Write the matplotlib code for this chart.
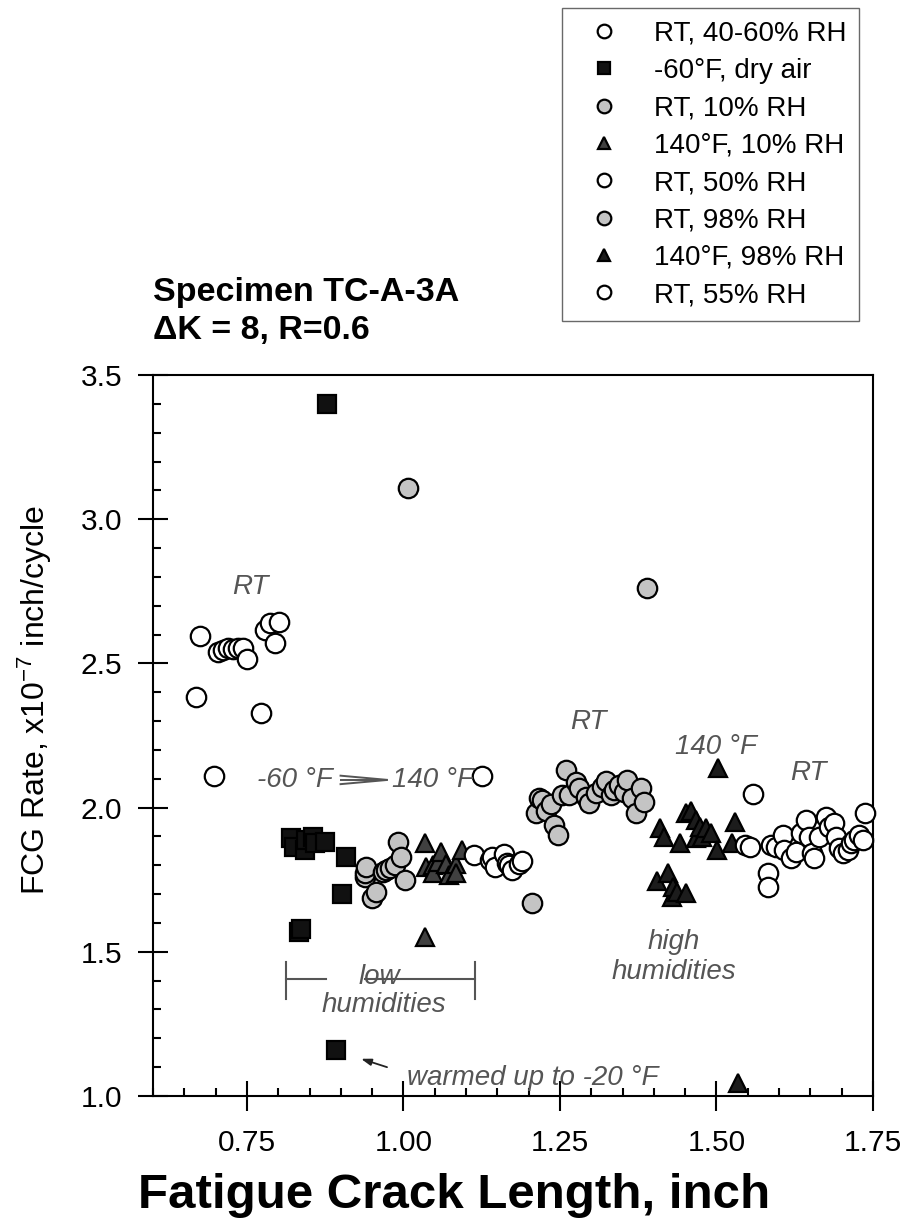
import matplotlib
matplotlib.use("Agg")
import matplotlib.pyplot as plt
from matplotlib.ticker import MultipleLocator, FixedLocator

plt.rcParams['font.family'] = ['Liberation Sans', 'DejaVu Sans']
plt.rcParams['mathtext.fontset'] = 'custom'
plt.rcParams['mathtext.rm'] = 'Liberation Sans'
plt.rcParams['mathtext.it'] = 'Liberation Sans:italic'

# ---- data: crack length (inch) and FCG rate (x1e-7 inch/cycle) ----
rt_4060_x = [0.668, 0.675, 0.698, 0.704, 0.712, 0.720, 0.728, 0.736, 0.743, 0.750,
             0.772, 0.779, 0.787, 0.795, 0.801]
rt_4060_y = [2.385, 2.595, 2.110, 2.540, 2.546, 2.552, 2.549, 2.552, 2.554, 2.516,
             2.327, 2.616, 2.640, 2.570, 2.642]

dry_x = [0.821, 0.826, 0.833, 0.837, 0.842, 0.845, 0.856, 0.858, 0.874, 0.878,
         0.892, 0.902, 0.908]
dry_y = [1.893, 1.865, 1.570, 1.578, 1.853, 1.888, 1.899, 1.876, 1.882, 3.398,
         1.160, 1.700, 1.827]

rh10_x = [0.938, 0.938, 0.941, 0.949, 0.956, 0.967, 0.972, 0.978, 0.986, 0.991,
          0.996, 1.002, 1.007]
rh10_y = [1.761, 1.772, 1.795, 1.686, 1.709, 1.778, 1.784, 1.789, 1.801, 1.882,
          1.830, 1.749, 3.108]

hot10_x = [1.034, 1.035, 1.036, 1.047, 1.047, 1.055, 1.060, 1.068, 1.073, 1.084,
           1.084, 1.094]
hot10_y = [1.552, 1.876, 1.795, 1.801, 1.772, 1.812, 1.847, 1.806, 1.766, 1.806,
           1.772, 1.853]

rt50_x = [1.113, 1.125, 1.139, 1.141, 1.147, 1.160, 1.165, 1.169, 1.174, 1.185, 1.190]
rt50_y = [1.836, 2.110, 1.818, 1.830, 1.795, 1.840, 1.807, 1.800, 1.784, 1.804, 1.815]

rh98_x = [1.206, 1.211, 1.217, 1.222, 1.227, 1.235, 1.240, 1.247, 1.254, 1.259,
          1.264, 1.275, 1.280, 1.291, 1.296, 1.307, 1.317, 1.323, 1.331, 1.336,
          1.344, 1.352, 1.357, 1.365, 1.371, 1.379, 1.384, 1.389]
rh98_y = [1.668, 1.980, 2.032, 2.026, 1.987, 2.014, 1.940, 1.905, 2.044, 2.130,
          2.044, 2.090, 2.067, 2.038, 2.015, 2.050, 2.073, 2.091, 2.044, 2.061,
          2.078, 2.055, 2.096, 2.032, 1.980, 2.067, 2.021, 2.761]

hot98_x = [1.405, 1.410, 1.416, 1.423, 1.429, 1.430, 1.437, 1.442, 1.452, 1.452,
           1.460, 1.468, 1.468, 1.473, 1.477, 1.484, 1.491, 1.501, 1.503, 1.525,
           1.530, 1.535]
hot98_y = [1.744, 1.928, 1.899, 1.772, 1.691, 1.726, 1.709, 1.876, 1.703, 1.980,
           1.987, 1.957, 1.893, 1.934, 1.899, 1.928, 1.911, 1.853, 2.136, 1.876,
           1.951, 1.044]

rt55_x = [1.546, 1.554, 1.559, 1.582, 1.582, 1.587, 1.595, 1.606, 1.608, 1.619,
          1.627, 1.635, 1.643, 1.648, 1.653, 1.656, 1.664, 1.675, 1.680, 1.688,
          1.691, 1.696, 1.702, 1.710, 1.715, 1.720, 1.728, 1.734, 1.737]
rt55_y = [1.870, 1.865, 2.047, 1.772, 1.726, 1.870, 1.865, 1.905, 1.853, 1.824,
          1.847, 1.911, 1.957, 1.899, 1.842, 1.824, 1.899, 1.969, 1.934, 1.946,
          1.899, 1.859, 1.842, 1.853, 1.876, 1.888, 1.905, 1.888, 1.980]

series_labels = ['RT, 40-60% RH', '-60°F, dry air', 'RT, 10% RH', '140°F, 10% RH',
                 'RT, 50% RH', 'RT, 98% RH', '140°F, 98% RH', 'RT, 55% RH']

x_major = [0.75, 1.00, 1.25, 1.50, 1.75]
x_major_labels = ['0.75', '1.00', '1.25', '1.50', '1.75']
y_major = [1.0, 1.5, 2.0, 2.5, 3.0, 3.5]
y_major_labels = ['1.0', '1.5', '2.0', '2.5', '3.0', '3.5']

# ---- figure ----
W, H = 908, 1229
fig = plt.figure(figsize=(W / 100, H / 100), dpi=100)
ax = fig.add_axes([153 / W, 1 - 1096 / H, 720 / W, 721 / H])

styles = [
    dict(marker='o', mfc='white'),
    dict(marker='s', mfc='#111111'),
    dict(marker='o', mfc='#c4c4c4'),
    dict(marker='^', mfc='#404040'),
    dict(marker='o', mfc='white'),
    dict(marker='o', mfc='#c4c4c4'),
    dict(marker='^', mfc='#1c1c1c'),
    dict(marker='o', mfc='white'),
]
sizes = {'o': 14, 's': 12.5, '^': 12.5}
data = [(rt_4060_x, rt_4060_y), (dry_x, dry_y), (rh10_x, rh10_y), (hot10_x, hot10_y),
        (rt50_x, rt50_y), (rh98_x, rh98_y), (hot98_x, hot98_y), (rt55_x, rt55_y)]

handles = []
for (xs, ys), st, lab in zip(data, styles, series_labels):
    h, = ax.plot(xs, ys, ls='none', marker=st['marker'], ms=sizes[st['marker']],
                 mfc=st['mfc'], mec='black', mew=1.6, label=lab, clip_on=False,
                 zorder=3)
    handles.append(h)

ax.set_xlim(0.60, 1.75)
ax.set_ylim(1.0, 3.5)
ax.xaxis.set_major_locator(FixedLocator(x_major))
ax.set_xticklabels(x_major_labels)
ax.yaxis.set_major_locator(FixedLocator(y_major))
ax.set_yticklabels(y_major_labels)
ax.xaxis.set_minor_locator(MultipleLocator(0.05))
ax.yaxis.set_minor_locator(MultipleLocator(0.1))

for sp in ax.spines.values():
    sp.set_linewidth(1.5)
ax.tick_params(which='major', direction='inout', length=21.6, width=1.5,
               labelsize=21.5, top=False, right=False)
ax.tick_params(axis='y', which='major', pad=11.5)
ax.tick_params(axis='x', which='major', pad=13)
ax.tick_params(which='minor', direction='in', length=5.8, width=1.5,
               top=False, right=False)

# ---- annotations ----
note = dict(color='#555555', style='italic', fontsize=20)
ax.text(0.755, 2.765, 'RT', ha='center', va='center', **note)
ax.text(1.296, 2.297, 'RT', ha='center', va='center', **note)
ax.text(1.500, 2.210, '140 °F', ha='center', va='center', **note)
ax.text(1.647, 2.120, 'RT', ha='center', va='center', **note)
ax.text(0.888, 2.096, '-60 °F', ha='right', va='center', **note)
ax.text(0.981, 2.096, '140 °F', ha='left', va='center', **note)
# narrow open wedge arrow between the two temperatures
wedge = dict(color='#555555', lw=1.4, solid_capstyle='butt')
ax.plot([0.898, 0.975], [2.111, 2.096], **wedge)
ax.plot([0.898, 0.975], [2.081, 2.096], **wedge)
ax.plot([0.898, 0.960], [2.096, 2.096], **wedge)

# low-humidity bracket
bk = dict(color='#555555', lw=1.5)
ax.plot([0.812, 0.812], [1.335, 1.465], **bk)
ax.plot([0.812, 0.877], [1.406, 1.406], **bk)
ax.plot([0.939, 1.115], [1.406, 1.406], **bk)
ax.plot([1.115, 1.115], [1.335, 1.465], **bk)
ax.text(0.961, 1.413, 'low', ha='center', va='center', **note)
ax.text(0.968, 1.316, 'humidities', ha='center', va='center', **note)

ax.text(1.432, 1.535, 'high', ha='center', va='center', **note)
ax.text(1.432, 1.431, 'humidities', ha='center', va='center', **note)

ax.text(1.005, 1.062, 'warmed up to -20 °F', ha='left', va='center', **note)
ax.annotate('', xy=(0.928, 1.132), xytext=(0.978, 1.097),
            arrowprops=dict(arrowstyle='-|>, head_length=0.6, head_width=0.2',
                            color='#222222', lw=1.3))

# ---- titles and axis labels ----
fig.text(153 / W, 1 - 293 / H, 'Specimen TC-A-3A', ha='left', va='center',
         fontsize=24.5, fontweight='bold')
fig.text(153 / W, 1 - 331 / H, 'ΔK = 8, R=0.6', ha='left', va='center',
         fontsize=24.5, fontweight='bold')
fig.text(454 / W, 1 - 1195 / H, 'Fatigue Crack Length, inch', ha='center',
         va='center', fontsize=35.5, fontweight='bold')
fig.text(35 / W, 1 - 700 / H, r'FCG Rate, x10$^{\mathregular{-7}}$ inch/cycle',
         ha='center', va='center', rotation=90, fontsize=23)

# ---- legend ----
leg = fig.legend(handles=handles, loc='upper left',
                 bbox_to_anchor=(562 / W, 1 - 8 / H), bbox_transform=fig.transFigure,
                 fontsize=20, numpoints=1, markerscale=0.7, frameon=True,
                 fancybox=False, edgecolor='#444444', borderpad=0.45,
                 labelspacing=0.41, handlelength=2.1, handletextpad=0.75,
                 borderaxespad=0)
leg.get_frame().set_linewidth(1.0)

fig.savefig('out.png', dpi=100)
